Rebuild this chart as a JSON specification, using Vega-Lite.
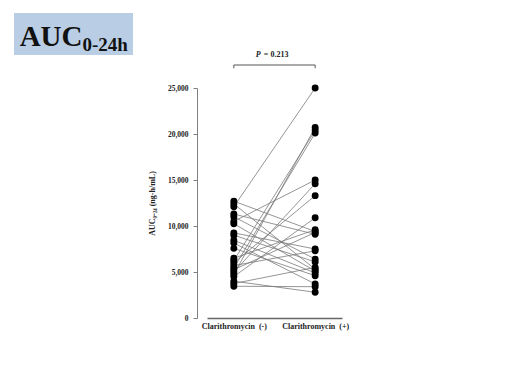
{
  "$schema": "https://vega.github.io/schema/vega-lite/v6.json",
  "background": "white",
  "padding": {"left": 14, "top": 13, "right": 5, "bottom": 5},
  "spacing": 74,
  "bounds": "flush",
  "config": {"view": {"stroke": null}},
  "datasets": {
    "auc": [
      {"id": 1, "c": "Clarithromycin\u00a0 (-)", "v": 12700}, {"id": 1, "c": "Clarithromycin\u00a0 (+)", "v": 9400},
      {"id": 2, "c": "Clarithromycin\u00a0 (-)", "v": 12400}, {"id": 2, "c": "Clarithromycin\u00a0 (+)", "v": 5300},
      {"id": 3, "c": "Clarithromycin\u00a0 (-)", "v": 12100}, {"id": 3, "c": "Clarithromycin\u00a0 (+)", "v": 25000},
      {"id": 4, "c": "Clarithromycin\u00a0 (-)", "v": 11300}, {"id": 4, "c": "Clarithromycin\u00a0 (+)", "v": 9100},
      {"id": 5, "c": "Clarithromycin\u00a0 (-)", "v": 11000}, {"id": 5, "c": "Clarithromycin\u00a0 (+)", "v": 6400},
      {"id": 6, "c": "Clarithromycin\u00a0 (-)", "v": 10500}, {"id": 6, "c": "Clarithromycin\u00a0 (+)", "v": 15000},
      {"id": 7, "c": "Clarithromycin\u00a0 (-)", "v": 10250}, {"id": 7, "c": "Clarithromycin\u00a0 (+)", "v": 5100},
      {"id": 8, "c": "Clarithromycin\u00a0 (-)", "v": 9250}, {"id": 8, "c": "Clarithromycin\u00a0 (+)", "v": 7500},
      {"id": 9, "c": "Clarithromycin\u00a0 (-)", "v": 9000}, {"id": 9, "c": "Clarithromycin\u00a0 (+)", "v": 6100},
      {"id": 10, "c": "Clarithromycin\u00a0 (-)", "v": 8450}, {"id": 10, "c": "Clarithromycin\u00a0 (+)", "v": 4900},
      {"id": 11, "c": "Clarithromycin\u00a0 (-)", "v": 8150}, {"id": 11, "c": "Clarithromycin\u00a0 (+)", "v": 3700},
      {"id": 12, "c": "Clarithromycin\u00a0 (-)", "v": 7570}, {"id": 12, "c": "Clarithromycin\u00a0 (+)", "v": 4600},
      {"id": 13, "c": "Clarithromycin\u00a0 (-)", "v": 6500}, {"id": 13, "c": "Clarithromycin\u00a0 (+)", "v": 9600},
      {"id": 14, "c": "Clarithromycin\u00a0 (-)", "v": 6250}, {"id": 14, "c": "Clarithromycin\u00a0 (+)", "v": 20400},
      {"id": 15, "c": "Clarithromycin\u00a0 (-)", "v": 6000}, {"id": 15, "c": "Clarithromycin\u00a0 (+)", "v": 13300},
      {"id": 16, "c": "Clarithromycin\u00a0 (-)", "v": 5700}, {"id": 16, "c": "Clarithromycin\u00a0 (+)", "v": 7300},
      {"id": 17, "c": "Clarithromycin\u00a0 (-)", "v": 5450}, {"id": 17, "c": "Clarithromycin\u00a0 (+)", "v": 20100},
      {"id": 18, "c": "Clarithromycin\u00a0 (-)", "v": 5250}, {"id": 18, "c": "Clarithromycin\u00a0 (+)", "v": 9300},
      {"id": 19, "c": "Clarithromycin\u00a0 (-)", "v": 5000}, {"id": 19, "c": "Clarithromycin\u00a0 (+)", "v": 14600},
      {"id": 20, "c": "Clarithromycin\u00a0 (-)", "v": 4750}, {"id": 20, "c": "Clarithromycin\u00a0 (+)", "v": 20700},
      {"id": 21, "c": "Clarithromycin\u00a0 (-)", "v": 4500}, {"id": 21, "c": "Clarithromycin\u00a0 (+)", "v": 10900},
      {"id": 22, "c": "Clarithromycin\u00a0 (-)", "v": 4000}, {"id": 22, "c": "Clarithromycin\u00a0 (+)", "v": 2800},
      {"id": 23, "c": "Clarithromycin\u00a0 (-)", "v": 3750}, {"id": 23, "c": "Clarithromycin\u00a0 (+)", "v": 5500},
      {"id": 24, "c": "Clarithromycin\u00a0 (-)", "v": 3450}, {"id": 24, "c": "Clarithromycin\u00a0 (+)", "v": 3400}
    ],
    "bracket": [
      {"o": 0, "c": "Clarithromycin\u00a0 (-)", "v": 27150},
      {"o": 1, "c": "Clarithromycin\u00a0 (-)", "v": 27500},
      {"o": 2, "c": "Clarithromycin\u00a0 (+)", "v": 27500},
      {"o": 3, "c": "Clarithromycin\u00a0 (+)", "v": 27150}
    ],
    "ptext": [
      {"c": "Clarithromycin\u00a0 (-)", "v": 28370, "p": "P", "rest": "= 0.213"}
    ],
    "title": [
      {"main": "AUC", "sub": "0-24h"}
    ]
  },
  "hconcat": [
    {
      "width": 119,
      "height": 42,
      "view": {"fill": "#b9cde5", "stroke": null},
      "data": {"name": "title"},
      "layer": [
        {
          "mark": {"type": "text", "font": "Liberation Serif", "fontWeight": "bold", "fontSize": 29, "align": "right", "baseline": "alphabetic", "dx": 9, "dy": 12, "color": "#111"},
          "encoding": {"text": {"field": "main"}}
        },
        {
          "mark": {"type": "text", "font": "Liberation Serif", "fontWeight": "bold", "fontSize": 19, "align": "left", "baseline": "alphabetic", "dx": 9, "dy": 17, "color": "#111"},
          "encoding": {"text": {"field": "sub"}}
        }
      ]
    },
    {
      "width": 135,
      "height": 305,
      "view": {"stroke": null},
      "encoding": {
        "x": {
          "field": "c", "type": "nominal",
          "scale": {"type": "point", "domain": ["Clarithromycin\u00a0 (-)", "Clarithromycin\u00a0 (+)"], "padding": 0.33},
          "axis": {"title": null, "labelAngle": 0, "ticks": false, "labelPadding": 4, "domainColor": "#666", "domainWidth": 1.5, "labelFont": "Liberation Serif", "labelFontWeight": "bold", "labelFontSize": 8, "labelColor": "#222"}
        },
        "y": {
          "field": "v", "type": "quantitative",
          "scale": {"domain": [0, 25000], "range": [305, 75]},
          "axis": {"title": "AUC\u2080\u208b\u2082\u2084 (ng\u00b7h/mL)", "values": [0, 5000, 10000, 15000, 20000, 25000], "format": ",.0f", "grid": false, "offset": 10, "tickSize": 4, "tickColor": "#808080", "domainColor": "#808080", "labelFont": "Liberation Serif", "labelFontWeight": "bold", "labelFontSize": 7.5, "labelColor": "#222", "labelPadding": 5, "titleFont": "Liberation Serif", "titleFontWeight": "bold", "titleFontSize": 8, "titleColor": "#222", "titlePadding": 11}
        }
      },
      "layer": [
        {
          "data": {"name": "auc"},
          "mark": {"type": "line", "color": "#7a7a7a", "strokeWidth": 0.8},
          "encoding": {"detail": {"field": "id", "type": "nominal"}}
        },
        {
          "data": {"name": "auc"},
          "mark": {"type": "circle", "color": "#000", "opacity": 1, "size": 48}
        },
        {
          "data": {"name": "bracket"},
          "mark": {"type": "line", "color": "#555", "strokeWidth": 1, "clip": false},
          "encoding": {"order": {"field": "o", "type": "quantitative"}}
        },
        {
          "data": {"name": "ptext"},
          "mark": {"type": "text", "font": "Liberation Serif", "fontStyle": "italic", "fontWeight": "bold", "fontSize": 8, "align": "left", "baseline": "alphabetic", "dx": 22, "color": "#222"},
          "encoding": {"text": {"field": "p"}}
        },
        {
          "data": {"name": "ptext"},
          "mark": {"type": "text", "font": "Liberation Serif", "fontWeight": "bold", "fontSize": 8, "align": "left", "baseline": "alphabetic", "dx": 30, "color": "#222"},
          "encoding": {"text": {"field": "rest"}}
        }
      ]
    }
  ]
}
